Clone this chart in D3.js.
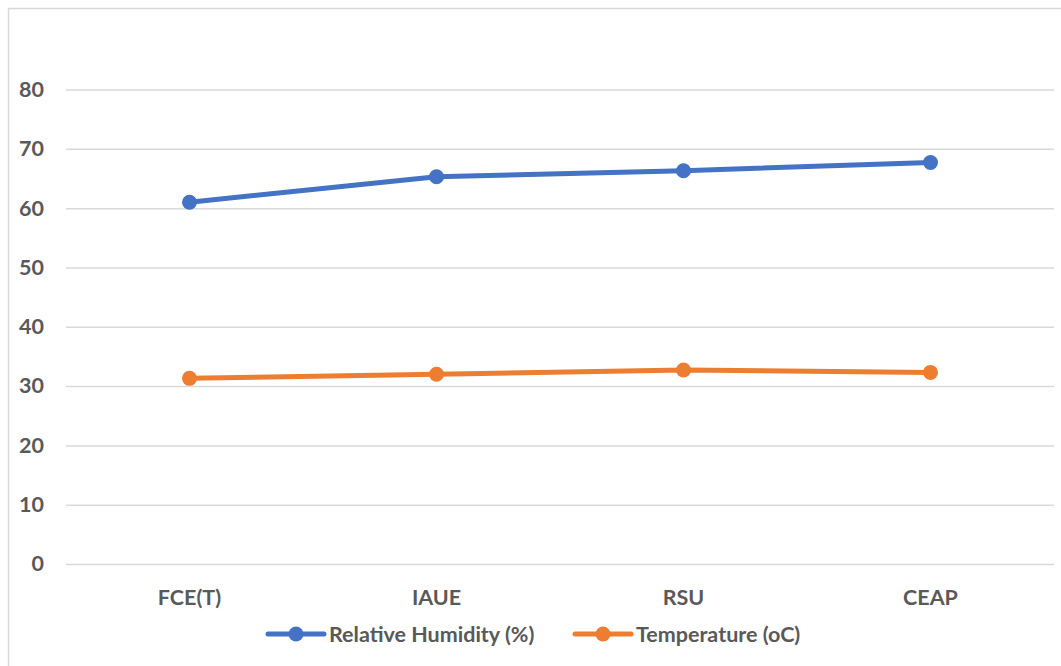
<!DOCTYPE html>
<html>
<head>
<meta charset="utf-8">
<script src="https://cdn.jsdelivr.net/npm/d3@7"></script>
<style>
  html, body { margin: 0; padding: 0; background: #fff; }
  svg { display: block; }
  text { font-family: Lato, "Open Sans", sans-serif; font-weight: 700; fill: #595959; }
</style>
</head>
<body>
<svg id="chart" width="1061" height="666"></svg>
<script>
// Sites along the x axis
const categories = ["FCE(T)", "IAUE", "RSU", "CEAP"];
// Relative humidity (%) per site
const humidity = [61.0, 65.3, 66.3, 67.7];
// Temperature (oC) per site
const temperature = [31.3, 32.0, 32.7, 32.3];
// Y axis ticks
const yTicks = [0, 10, 20, 30, 40, 50, 60, 70, 80];

const series = [
  { name: "Relative Humidity (%)", values: humidity, color: "#4472C4" },
  { name: "Temperature (oC)", values: temperature, color: "#ED7D31" }
];

const FS = 21.5;
const svg = d3.select("#chart");
const W = 1061, H = 666;

// Chart frame
svg.append("rect")
  .attr("x", 8.5).attr("y", 8.5)
  .attr("width", W + 10).attr("height", H + 10)
  .attr("fill", "#fff").attr("stroke", "#d9d9d9").attr("stroke-width", 1.5);

const plot = { left: 66, right: 1054, top: 89.5, bottom: 564 };

const x = d3.scaleBand().domain(categories).range([plot.left, plot.right]);
const y = d3.scaleLinear().domain([0, 80]).range([plot.bottom, plot.top]);

// Gridlines and y labels
const yAxis = d3.axisLeft(y).tickValues(yTicks).tickSize(-(plot.right - plot.left)).tickPadding(22);
const gy = svg.append("g").attr("transform", `translate(${plot.left},0)`).call(yAxis);
gy.select(".domain").remove();
gy.selectAll(".tick line").attr("stroke", "#d9d9d9").attr("stroke-width", 1.5);
gy.selectAll(".tick text").attr("font-size", FS).attr("fill", "#595959")
  .style("font-family", "Lato, 'Open Sans', sans-serif").style("font-weight", 700);

// Category labels
const xAxis = d3.axisBottom(x).tickSize(0).tickPadding(26);
const gx = svg.append("g").attr("transform", `translate(0,${plot.bottom})`).call(xAxis);
gx.select(".domain").remove();
gx.selectAll(".tick text").attr("font-size", FS).attr("fill", "#595959")
  .style("font-family", "Lato, 'Open Sans', sans-serif").style("font-weight", 700);

const cx = d => x(d) + x.bandwidth() / 2;
const line = d3.line().x((d, i) => cx(categories[i])).y(d => y(d));

series.forEach(s => {
  svg.append("path")
    .datum(s.values)
    .attr("d", line)
    .attr("fill", "none")
    .attr("stroke", s.color)
    .attr("stroke-width", 5)
    .attr("stroke-linejoin", "round")
    .attr("stroke-linecap", "round");
  svg.append("g").selectAll("circle")
    .data(s.values)
    .join("circle")
    .attr("cx", (d, i) => cx(categories[i]))
    .attr("cy", d => y(d))
    .attr("r", 7.5)
    .attr("fill", s.color);
});

// Legend
const legendY = 634;
const legendX = [268, 575];
series.forEach((s, i) => {
  const g = svg.append("g").attr("transform", `translate(${legendX[i]},${legendY})`);
  g.append("line").attr("x1", 0).attr("x2", 56).attr("y1", 0).attr("y2", 0)
    .attr("stroke", s.color).attr("stroke-width", 5).attr("stroke-linecap", "round");
  g.append("circle").attr("cx", 28).attr("cy", 0).attr("r", 7.5).attr("fill", s.color);
  g.append("text").attr("x", 61).attr("y", 0).attr("dy", "0.35em")
    .attr("font-size", FS).text(s.name);
});
</script>
</body>
</html>
